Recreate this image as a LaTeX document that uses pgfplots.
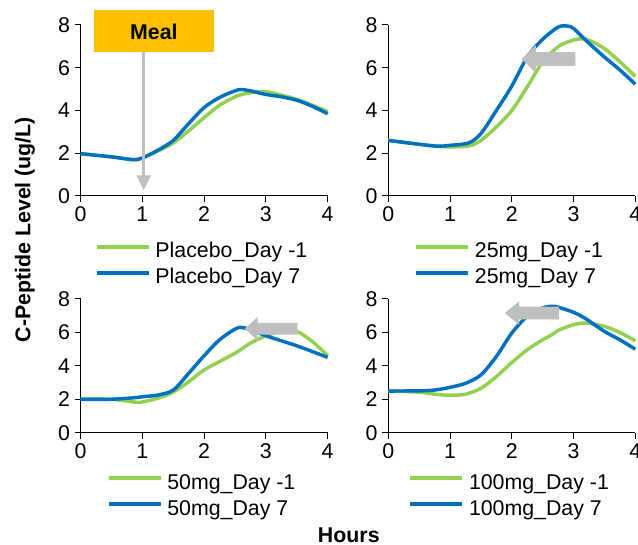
\documentclass[border=0pt]{standalone}
\usepackage{pgfplots}
\pgfplotsset{compat=1.18}
\usepackage{pgfplotstable}
\usepackage{fontspec}
\setmainfont{Liberation Sans}
\usetikzlibrary{arrows.meta}

\definecolor{cgreen}{HTML}{92D050}
\definecolor{cblue}{HTML}{0070C0}
\definecolor{cgray}{HTML}{BFBFBF}
\definecolor{cmeal}{HTML}{FFC000}

% Hours, Day -1, Day 7
\pgfplotstableread{
t    a     b
0    1.98  1.98
0.5  1.83  1.83
0.85 1.70  1.70
1    1.78  1.78
1.25 2.11  2.14
1.5  2.48  2.60
1.75 3.05  3.39
2    3.67  4.14
2.25 4.25  4.61
2.5  4.64  4.92
2.6  4.74  4.98
2.75 4.83  4.92
3    4.88  4.75
3.25 4.72  4.64
3.5  4.52  4.48
3.75 4.25  4.20
4    3.95  3.85
}\placebo

\pgfplotstableread{
t    a     b
0    2.60  2.60
0.5  2.42  2.42
0.8  2.32  2.33
1    2.30  2.37
1.3  2.34  2.48
1.5  2.60  2.92
1.75 3.23  4.00
2    4.00  5.14
2.25 5.10  6.50
2.5  6.28  7.33
2.75 6.98  7.90
2.9  7.20  7.95
3    7.30  7.84
3.2  7.34  7.28
3.5  6.90  6.50
3.75 6.28  5.90
4    5.60  5.23
}\mgA

\pgfplotstableread{
t    a     b
0    2.02  2.00
0.5  2.00  2.00
0.9  1.82  2.10
1    1.84  2.15
1.25 2.06  2.25
1.5  2.43  2.55
1.75 3.05  3.55
2    3.75  4.60
2.25 4.25  5.55
2.5  4.75  6.19
2.6  4.98  6.29
2.75 5.35  6.15
3    5.79  5.79
3.25 6.05  5.49
3.5  6.05  5.19
3.75 5.45  4.85
4    4.60  4.50
}\mgB

\pgfplotstableread{
t    a     b
0    2.50  2.49
0.5  2.42  2.50
0.75 2.30  2.55
1    2.24  2.71
1.25 2.30  2.95
1.5  2.65  3.45
1.75 3.35  4.55
2    4.19  5.95
2.25 4.95  6.95
2.5  5.55  7.45
2.65 5.85  7.55
2.75 6.11  7.50
3    6.45  7.19
3.2  6.55  6.80
3.5  6.35  6.05
3.75 5.99  5.55
4    5.49  4.99
}\mgC

\pgfplotsset{
  panel/.style={
    scale only axis, width=185.25pt,
    xmin=0, xmax=4, ymin=0, ymax=8,
    xtick={0,1,2,3,4}, ytick={0,2,4,6,8},
    axis lines=left, axis line style={-, black, line width=0.75pt},
    tick style={black, line width=0.75pt},
    tick align=outside, major tick length=4.5pt,
    ticklabel style={font=\fontsize{16}{19}\selectfont},
    /pgf/number format/assume math mode=true,
    clip=false,
    legend cell align=left,
    legend style={draw=none, fill=none, inner sep=0pt, row sep=4pt,
      font=\fontsize{16}{19}\selectfont,
      nodes={inner sep=0pt, text height=12pt, text depth=3.5pt},
      /tikz/every odd column/.append style={column sep=3.75pt}},
    legend image code/.code={\draw[##1, line width=2.5pt] (0pt,4pt) -- (39pt,4pt);},
  },
  day1/.style={color=cgreen, line width=2.6pt, smooth, no markers},
  day7/.style={color=cblue, line width=2.6pt, smooth, no markers},
}

\begin{document}
\begin{tikzpicture}

\begin{axis}[panel, height=128.25pt, at={(60.5pt,261.75pt)}, anchor=origin,
  legend style={at={(0.488,-0.267)}, anchor=north}]
\addplot[day1] table[x=t, y=a] {\placebo};
\addlegendentry{Placebo\_Day -1}
\addplot[day7] table[x=t, y=b] {\placebo};
\addlegendentry{Placebo\_Day 7}
\fill[cmeal] (axis cs:0.215,6.74) rectangle (axis cs:2.156,8.70);
\node[font=\bfseries\fontsize{16}{19}\selectfont] at (axis cs:1.185,7.68) {Meal};
\draw[cgray, line width=2pt, -{Triangle[width=10.5pt, length=11pt]}]
  (axis cs:1.02,6.74) -- (axis cs:1.02,0.28);
\end{axis}

\begin{axis}[panel, height=128.25pt, at={(291.2pt,261.75pt)}, anchor=origin,
  legend style={at={(0.488,-0.267)}, anchor=north}]
\addplot[day1] table[x=t, y=a] {\mgA};
\addlegendentry{25mg\_Day -1}
\addplot[day7] table[x=t, y=b] {\mgA};
\addlegendentry{25mg\_Day 7}
\fill[cgray] (axis cs:2.16,6.41) -- (axis cs:2.39,7.06) -- (axis cs:2.39,6.73)
  -- (axis cs:3.03,6.73) -- (axis cs:3.03,6.09) -- (axis cs:2.39,6.09)
  -- (axis cs:2.39,5.76) -- cycle;
\end{axis}

\begin{axis}[panel, height=100.5pt, at={(60.5pt,84.2pt)}, anchor=origin,
  legend style={at={(0.488,-0.299)}, anchor=north}]
\addplot[day1] table[x=t, y=a] {\mgB};
\addlegendentry{50mg\_Day -1}
\addplot[day7] table[x=t, y=b] {\mgB};
\addlegendentry{50mg\_Day 7}
\fill[cgray] (axis cs:2.657,6.21) -- (axis cs:2.867,6.91) -- (axis cs:2.867,6.56)
  -- (axis cs:3.51,6.56) -- (axis cs:3.51,5.86) -- (axis cs:2.867,5.86)
  -- (axis cs:2.867,5.51) -- cycle;
\end{axis}

\begin{axis}[panel, height=100.5pt, at={(291.2pt,84.2pt)}, anchor=origin,
  legend style={at={(0.488,-0.299)}, anchor=north}]
\addplot[day1] table[x=t, y=a] {\mgC};
\addlegendentry{100mg\_Day -1}
\addplot[day7] table[x=t, y=b] {\mgC};
\addlegendentry{100mg\_Day 7}
\fill[cgray] (axis cs:1.887,7.145) -- (axis cs:2.118,7.845) -- (axis cs:2.118,7.525)
  -- (axis cs:2.765,7.525) -- (axis cs:2.765,6.765) -- (axis cs:2.118,6.765)
  -- (axis cs:2.118,6.445) -- cycle;
\end{axis}

\node[rotate=90, font=\bfseries\fontsize{16}{19}\selectfont] at (18.75pt,236.6pt) {C-Peptide Level (ug/L)};
\node[anchor=base, inner sep=0pt, font=\bfseries\fontsize{16}{19}\selectfont] at (261.6pt,2.2pt) {Hours};

\pgfresetboundingbox
\path[use as bounding box] (0,0) rectangle (478.5pt,408.75pt);
\end{tikzpicture}
\end{document}
